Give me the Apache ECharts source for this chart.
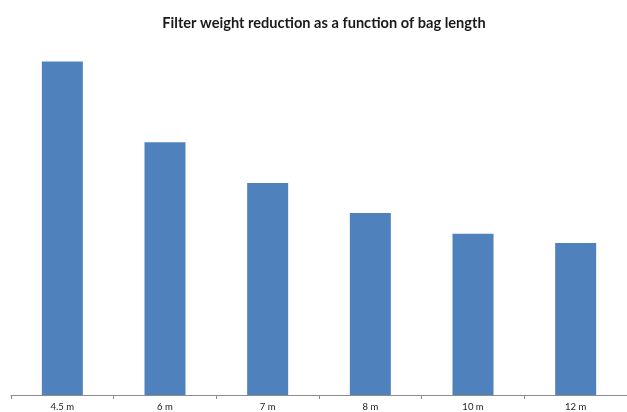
<!DOCTYPE html>
<html>
<head>
<meta charset="utf-8">
<script src="https://cdn.jsdelivr.net/npm/echarts@6/dist/echarts.min.js"></script>
<style>html,body{margin:0;padding:0;background:#fff;}#c{width:627px;height:412px;}</style>
</head>
<body>
<div id="c"></div>
<script>
const categories = ['4.5 m', '6 m', '7 m', '8 m', '10 m', '12 m'];
const weightReduction = [95.3, 72.2, 60.6, 52.0, 46.1, 43.4];
const titleText = 'Filter weight reduction as a function of bag length';

const chart = echarts.init(document.getElementById('c'), null, {renderer: 'canvas'});
chart.setOption({
  animation: false,
  backgroundColor: '#ffffff',
  title: {
    text: titleText,
    left: 319, top: 11, textAlign: 'center',
    textStyle: {fontFamily: 'Lato', fontWeight: 'bold', fontSize: 14.6, color: '#1a1a1a'}
  },
  grid: {left: 11, right: -3, top: 45, bottom: 16, containLabel: false},
  xAxis: {
    type: 'category',
    data: categories,
    axisLine: {lineStyle: {color: '#8c8c8c', width: 1}},
    axisTick: {show: true, alignWithLabel: false, length: 4, lineStyle: {color: '#8c8c8c'}},
    axisLabel: {fontFamily: 'Lato', fontSize: 9.5, color: '#222', margin: 7}
  },
  yAxis: {
    type: 'value', min: 0, max: 100,
    show: false, splitLine: {show: false}
  },
  series: [{
    type: 'bar',
    data: weightReduction,
    barWidth: 41,
    itemStyle: {color: '#4F81BD'}
  }]
});
</script>
</body>
</html>
